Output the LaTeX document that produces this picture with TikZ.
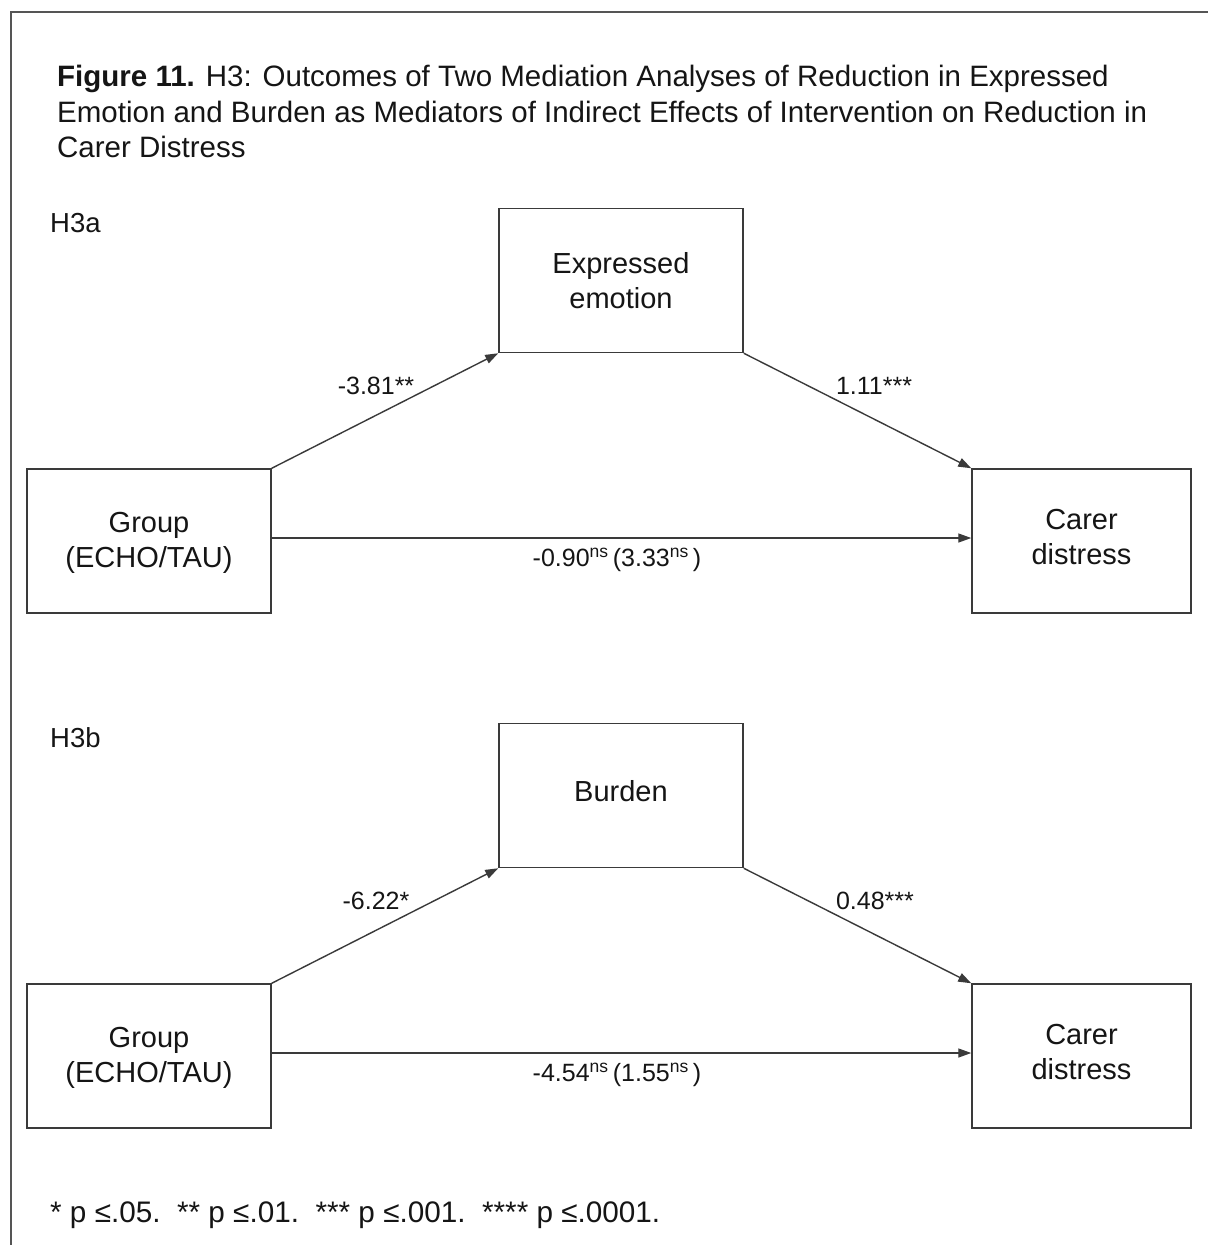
\documentclass[tikz,border=0pt]{standalone}
\usepackage{fontspec}
\setmainfont{Liberation Sans}
\usetikzlibrary{arrows.meta}
\definecolor{ink}{HTML}{151515}
\definecolor{rule}{HTML}{3A3A3A}
\definecolor{frame}{HTML}{555555}
\tikzset{
  varbox/.style={draw=rule, line width=1.5pt, align=center, text=ink,
    font=\fontsize{29}{35}\selectfont, inner sep=0pt},
  path/.style={draw=rule, line width=1.4pt, -{Triangle[length=13pt,width=9pt]}},
  coef/.style={text=ink, font=\fontsize{25}{29}\selectfont, inner sep=0pt},
  panel/.style={text=ink, font=\fontsize{27.5}{32}\selectfont, inner sep=0pt, anchor=west},
  titleline/.style={text=ink, font=\fontsize{29.5}{35}\selectfont, inner sep=0pt, anchor=base west},
}
% two centred lines, nudged vertically without changing the box size
\newcommand{\twolines}[3]{\raisebox{#1}[\height][\depth]{\begin{tabular}{@{}c@{}}#2\\#3\end{tabular}}}
\begin{document}
\begin{tikzpicture}[x=1pt,y=-1pt]
  \useasboundingbox (0,0) rectangle (1208,1245);
  \fill[white] (0,0) rectangle (1208,1245);
  % outer frame (top and left edges)
  \draw[frame, line width=2pt] (11,1245) -- (11,11.5) -- (1208,11.5);

  % caption
  \node[titleline] (t1) at (57,86) {\textbf{Figure 11.} H3: Outcomes of Two Mediation Analyses of Reduction in Expressed};
  \node[titleline] (t2) at (57,122) {Emotion and Burden as Mediators of Indirect Effects of Intervention on Reduction in};
  \node[titleline] (t3) at (57,157) {Carer Distress};

  % ---- H3a ----
  \node[panel] (pa) at (50,223) {H3a};
  \node[varbox, minimum width=244pt, minimum height=144pt] (mA) at (621,280.5) {\twolines{-3pt}{Expressed}{emotion}};
  \node[varbox, minimum width=244pt, minimum height=144pt] (xA) at (149,541) {\twolines{-2pt}{Group}{(ECHO/TAU)}};
  \node[varbox, minimum width=219pt, minimum height=144pt] (yA) at (1081.5,541) {\twolines{1pt}{Carer}{distress}};
  \draw[path] (xA.north east) -- (mA.south west);
  \draw[path] (mA.south east) -- (yA.north west);
  \draw[path] ([yshift=3pt]xA.east) -- ([yshift=3pt]yA.west);
  \node[coef] (aA) at (376,386) {-3.81**};
  \node[coef] (bA) at (874,386) {1.11***};
  \node[coef] (cA) at (617,560) {-0.90\textsuperscript{ns}\,(3.33\textsuperscript{ns}\,)};

  % ---- H3b ----
  \node[panel] (pb) at (50,738) {H3b};
  \node[varbox, minimum width=244pt, minimum height=144pt] (mB) at (621,795.5) {\raisebox{4pt}[\height][\depth]{Burden}};
  \node[varbox, minimum width=244pt, minimum height=144pt] (xB) at (149,1056) {\twolines{-2pt}{Group}{(ECHO/TAU)}};
  \node[varbox, minimum width=219pt, minimum height=144pt] (yB) at (1081.5,1056) {\twolines{1pt}{Carer}{distress}};
  \draw[path] (xB.north east) -- (mB.south west);
  \draw[path] (mB.south east) -- (yB.north west);
  \draw[path] ([yshift=3pt]xB.east) -- ([yshift=3pt]yB.west);
  \node[coef] (aB) at (376,901) {-6.22*};
  \node[coef] (bB) at (875,901) {0.48***};
  \node[coef] (cB) at (617,1075) {-4.54\textsuperscript{ns}\,(1.55\textsuperscript{ns}\,)};

  % significance note
  \node[titleline, font=\fontsize{29.7}{34}\selectfont] (note) at (50,1222)
    {* p ≤.05.\ \ ** p ≤.01.\ \ *** p ≤.001.\ \ **** p ≤.0001.};
\end{tikzpicture}
\end{document}
